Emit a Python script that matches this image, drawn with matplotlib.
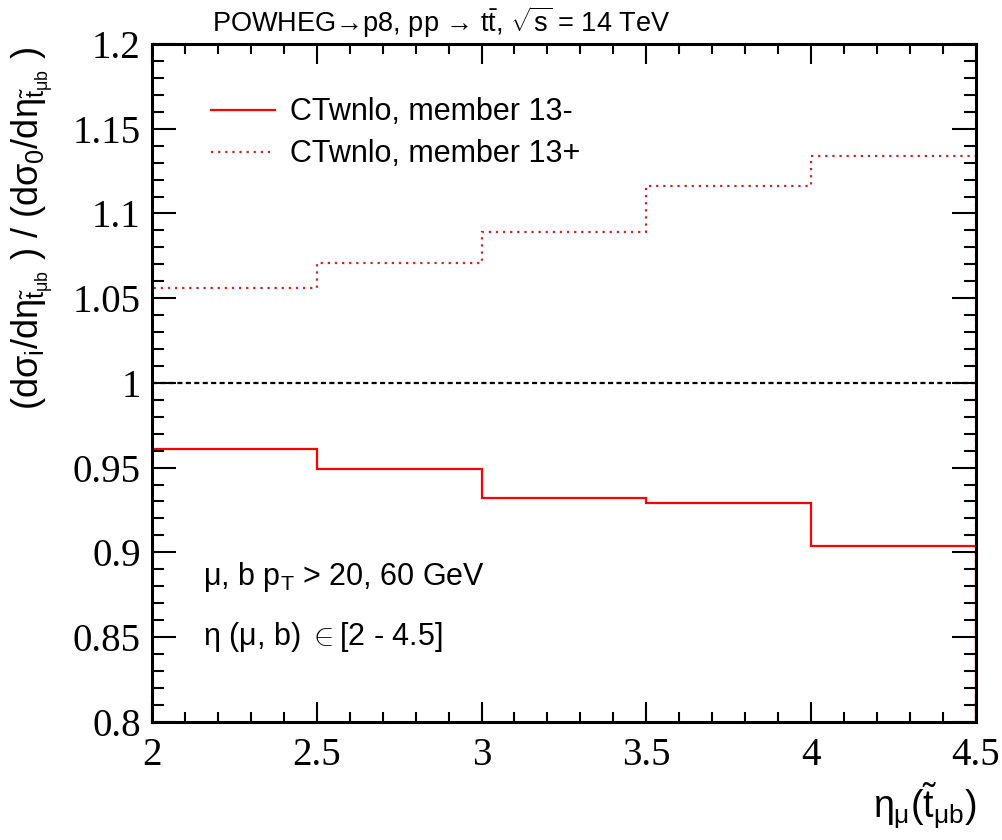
import matplotlib
matplotlib.use("Agg")
import matplotlib.pyplot as plt
from matplotlib.ticker import MultipleLocator, FixedFormatter, FixedLocator

edges = [2.0, 2.5, 3.0, 3.5, 4.0, 4.5]
minus_vals = [0.961, 0.949, 0.932, 0.929, 0.904]
plus_vals = [1.056, 1.071, 1.089, 1.116, 1.134]
ref_val = 1.0

xticks = [2, 2.5, 3, 3.5, 4, 4.5]
xticklabels = ["2", "2.5", "3", "3.5", "4", "4.5"]
yticks = [0.8, 0.85, 0.9, 0.95, 1.0, 1.05, 1.1, 1.15, 1.2]
yticklabels = ["0.8", "0.85", "0.9", "0.95", "1", "1.05", "1.1", "1.15", "1.2"]

plt.rcParams['mathtext.fontset'] = 'custom'
plt.rcParams['mathtext.rm'] = 'Liberation Sans'
plt.rcParams['mathtext.it'] = 'Liberation Sans'
plt.rcParams['mathtext.bf'] = 'Liberation Sans:bold'
plt.rcParams['font.family'] = ['Liberation Sans', 'DejaVu Sans']

fig = plt.figure(figsize=(10.03, 8.4), dpi=100)
ax = fig.add_axes([0.1515, 0.1408, 0.8215, 0.8068])

ax.stairs(minus_vals, edges, baseline=0.0, color='#ff0000', lw=1.6,
          label='CTwnlo, member 13-')
ax.stairs(plus_vals, edges, baseline=0.0, color='#cc2222', lw=1.6,
          linestyle=(0, (1, 2.2)), label='CTwnlo, member 13+')
ax.plot([edges[0], edges[-1]], [ref_val, ref_val], color='black', lw=1.6,
        linestyle=(0, (2.3, 1.5)))

ax.set_xlim(2, 4.5)
ax.set_ylim(0.8, 1.2)

ax.xaxis.set_major_locator(FixedLocator(xticks))
ax.xaxis.set_major_formatter(FixedFormatter(xticklabels))
ax.yaxis.set_major_locator(FixedLocator(yticks))
ax.yaxis.set_major_formatter(FixedFormatter(yticklabels))
ax.xaxis.set_minor_locator(MultipleLocator(0.1))
ax.yaxis.set_minor_locator(MultipleLocator(0.01))

for sp in ax.spines.values():
    sp.set_linewidth(2.2)

ax.tick_params(which='both', direction='in', top=True, right=True, width=1.5)
ax.tick_params(axis='x', which='major', length=14.4, pad=11)
ax.tick_params(axis='x', which='minor', length=7.2)
ax.tick_params(axis='y', which='major', length=17, pad=8)
ax.tick_params(axis='y', which='minor', length=8.5)
for lab in ax.get_xticklabels() + ax.get_yticklabels():
    lab.set_fontfamily('Liberation Serif')
    lab.set_fontsize(28)

ax.set_ylabel(r'$(\mathrm{d}\sigma_{i}/\mathrm{d}\eta_{\tilde{t}_{\mu b}}\ )\ /\ (\mathrm{d}\sigma_{0}/\mathrm{d}\eta_{\tilde{t}_{\mu b}}\ )$',
              fontsize=26)
ax.yaxis.set_label_coords(-0.118, 0.728)

fig.text(0.973, 0.01, r'$\eta_{\mu}(\tilde{t}_{\mu b})$', ha='right', va='bottom',
         fontsize=27, fontfamily='Liberation Serif')

fig.text(0.44, 0.973, r'POWHEG→p8, pp → t$\bar{\mathrm{t}}$, $\sqrt{\mathrm{s}}$ = 14 TeV',
         ha='center', va='center', fontsize=19.5)

leg = ax.legend(loc='upper left', bbox_to_anchor=(0.038, 0.962), frameon=False,
                fontsize=22, handlelength=2.1, handletextpad=0.5, labelspacing=0.4)

ax.text(0.062, 0.2135, r'$\mu$, b p$_{\mathrm{T}}$ > 20, 60 GeV', transform=ax.transAxes,
        fontsize=22, va='center', ha='left')
ax.text(0.062, 0.125, r'$\eta$ ($\mu$, b) $\in$[2 - 4.5]', transform=ax.transAxes,
        fontsize=22, va='center', ha='left')

fig.savefig('out.png', dpi=100)
